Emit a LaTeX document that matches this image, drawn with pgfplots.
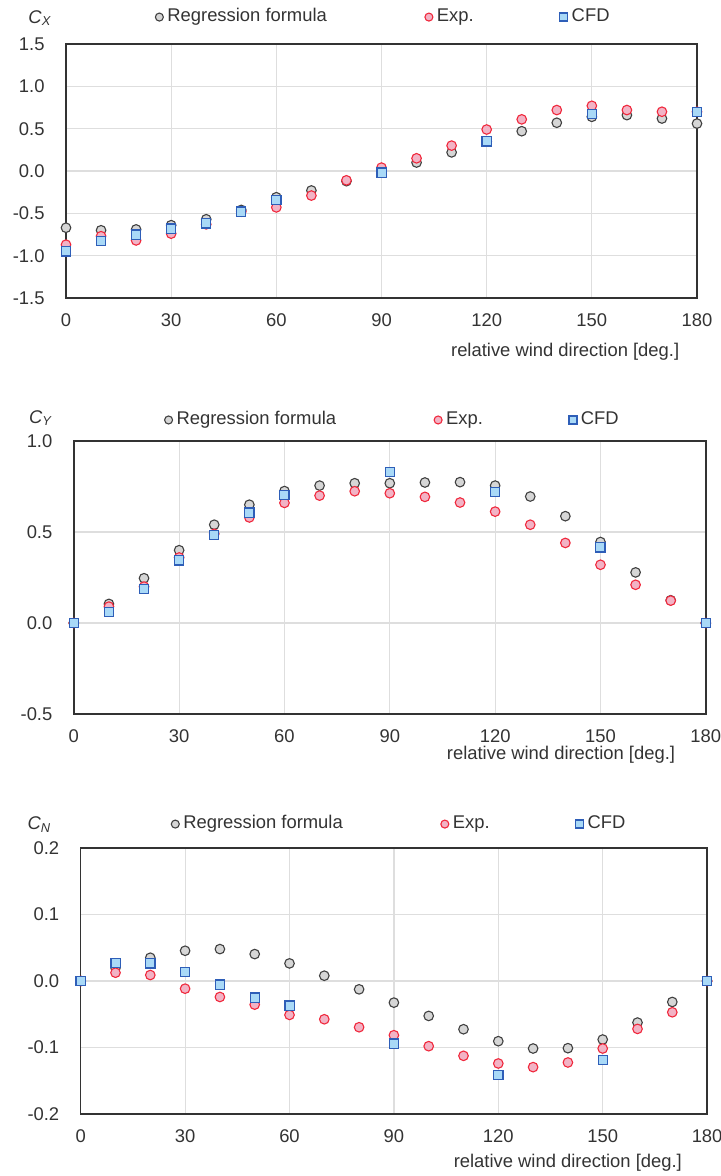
\documentclass[border=0pt]{standalone}
\usepackage{pgfplots}
\pgfplotsset{compat=1.18}
\usepackage{fontspec}
\setmainfont{Liberation Sans}

\definecolor{regfill}{HTML}{D6D6D6}
\definecolor{regdraw}{HTML}{404040}
\definecolor{expfill}{HTML}{F2B3C5}
\definecolor{expdraw}{HTML}{F0283C}
\definecolor{cfdfill}{HTML}{A9D9F7}
\definecolor{cfddraw}{HTML}{2E5EB8}
\definecolor{txt}{HTML}{333333}

\pgfplotsset{
  panel/.style={
    scale only axis,
    xmin=0, xmax=180,
    xtick={0,30,...,180},
    xticklabels={0,30,60,90,120,150,180},
    clip=false,
    grid=major,
    major grid style={draw=black!13, line width=0.6pt},
    axis line style={draw=black!80, line width=0.7pt},
    major tick length=0pt,
    font=\fontsize{9.2pt}{11pt}\selectfont,
    tick label style={text=txt},
    xticklabel style={yshift=-4.5pt},
    yticklabel style={xshift=-7.2pt},
    label style={text=txt},
    legend columns=3,
    legend style={draw=none, fill=none, inner sep=0pt, anchor=west,
      text=txt, font=\fontsize{9.2pt}{11pt}\selectfont,
      nodes={text height=6.7pt, text depth=1.9pt},
      /tikz/column 2/.style={column sep=47pt},
      /tikz/column 4/.style={column sep=41pt}},
    legend image code/.code={\draw[##1,mark size=2pt] plot coordinates {(0pt,0pt)};},
  },
  reg/.style={only marks, mark=*, mark size=2.4pt,
    mark options={fill=regfill, draw=regdraw, line width=0.55pt}},
  exp/.style={only marks, mark=*, mark size=2.4pt,
    mark options={fill=expfill, draw=expdraw, line width=0.55pt}},
  cfd/.style={only marks, mark=square*, mark size=2.3pt,
    mark options={fill=cfdfill, draw=cfddraw, line width=0.6pt}},
}

\begin{document}
\begin{tikzpicture}
\useasboundingbox (0pt,0pt) rectangle (360.5pt,-588pt);

% C_X
\begin{axis}[panel,
  at={(33pt,-149pt)}, anchor=south west,
  width=315.5pt, height=127pt,
  ymin=-1.5, ymax=1.5,
  ytick={-1.5,-1,-0.5,0,0.5,1,1.5},
  yticklabels={-1.5,-1.0,-0.5,0.0,0.5,1.0,1.5},
  ylabel={\textit{C}\textsubscript{\textit{X}}},
  ylabel style={rotate=-90, at={(axis description cs:-0.041,1.102)}, anchor=center},
  xlabel={relative wind direction [deg.]},
  xlabel style={at={(axis description cs:0.983,-0.213)}, anchor=east},
  legend style={at={(axis description cs:0.141,1.106)}},
]
\addplot[reg] coordinates {
(0,-0.67)(10,-0.70)(20,-0.69)(30,-0.64)(40,-0.57)(50,-0.46)(60,-0.31)(70,-0.23)
(80,-0.12)(90,-0.01)(100,0.10)(110,0.22)(120,0.35)(130,0.47)(140,0.57)(150,0.64)
(160,0.66)(170,0.62)(180,0.56)};
\addplot[exp] coordinates {
(0,-0.87)(10,-0.77)(20,-0.82)(30,-0.74)(40,-0.63)(50,-0.48)(60,-0.43)(70,-0.29)
(80,-0.11)(90,0.04)(100,0.15)(110,0.30)(120,0.49)(130,0.61)(140,0.72)(150,0.77)
(160,0.72)(170,0.70)(180,0.70)};
\addplot[cfd] coordinates {
(0,-0.95)(10,-0.83)(20,-0.75)(30,-0.68)(40,-0.62)(50,-0.48)(60,-0.34)(90,-0.02)
(120,0.35)(150,0.67)(180,0.70)};
\legend{Regression formula,Exp.,CFD}
\end{axis}

% C_Y
\begin{axis}[panel,
  at={(36.9pt,-357pt)}, anchor=south west,
  width=316pt, height=136.5pt,
  ymin=-0.5, ymax=1.0,
  ytick={-0.5,0,0.5,1},
  yticklabels={-0.5,0.0,0.5,1.0},
  ylabel={\textit{C}\textsubscript{\textit{Y}}},
  ylabel style={rotate=-90, at={(axis description cs:-0.052,1.084)}, anchor=center},
  xlabel={relative wind direction [deg.]},
  xlabel style={at={(axis description cs:0.9625,-0.150)}, anchor=east},
  legend style={at={(axis description cs:0.143,1.077)}},
]
\addplot[reg] coordinates {
(0,0)(10,0.105)(20,0.246)(30,0.40)(40,0.54)(50,0.65)(60,0.725)(70,0.755)(80,0.768)
(90,0.768)(100,0.772)(110,0.774)(120,0.755)(130,0.695)(140,0.587)(150,0.445)
(160,0.278)(170,0.125)(180,0)};
\addplot[exp] coordinates {
(0,0)(10,0.09)(20,0.20)(30,0.36)(40,0.49)(50,0.58)(60,0.66)(70,0.70)(80,0.724)
(90,0.713)(100,0.693)(110,0.662)(120,0.612)(130,0.54)(140,0.44)(150,0.32)
(160,0.21)(170,0.123)(180,0)};
\addplot[cfd] coordinates {
(0,0)(10,0.059)(20,0.186)(30,0.344)(40,0.485)(50,0.607)(60,0.704)(90,0.831)
(120,0.719)(150,0.415)(180,0)};
\legend{Regression formula,Exp.,CFD}
\end{axis}

% C_N
\begin{axis}[panel,
  at={(40.35pt,-557pt)}, anchor=south west,
  width=313.2pt, height=133pt,
  ymin=-0.2, ymax=0.2,
  ytick={-0.2,-0.1,0,0.1,0.2},
  yticklabels={-0.2,-0.1,0.0,0.1,0.2},
  ylabel={\textit{C}\textsubscript{\textit{N}}},
  ylabel style={rotate=-90, at={(axis description cs:-0.066,1.088)}, anchor=center},
  xlabel={relative wind direction [deg.]},
  xlabel style={at={(axis description cs:0.971,-0.183)}, anchor=east},
  legend style={at={(axis description cs:0.144,1.090)}},
]
\addplot[reg] coordinates {
(0,0)(10,0.02)(20,0.035)(30,0.0455)(40,0.048)(50,0.0405)(60,0.0265)(70,0.008)
(80,-0.0125)(90,-0.0325)(100,-0.0525)(110,-0.0725)(120,-0.0905)(130,-0.1015)
(140,-0.101)(150,-0.088)(160,-0.0625)(170,-0.0315)(180,0)};
\addplot[exp] coordinates {
(0,0)(10,0.0125)(20,0.009)(30,-0.0115)(40,-0.024)(50,-0.0355)(60,-0.051)(70,-0.0575)
(80,-0.0695)(90,-0.0815)(100,-0.098)(110,-0.1125)(120,-0.124)(130,-0.1295)
(140,-0.1225)(150,-0.1015)(160,-0.072)(170,-0.047)(180,0)};
\addplot[cfd] coordinates {
(0,0)(10,0.0275)(20,0.0265)(30,0.014)(40,-0.0055)(50,-0.025)(60,-0.037)(90,-0.094)
(120,-0.1415)(150,-0.119)(180,0)};
\legend{Regression formula,Exp.,CFD}
\end{axis}
\end{tikzpicture}
\end{document}
